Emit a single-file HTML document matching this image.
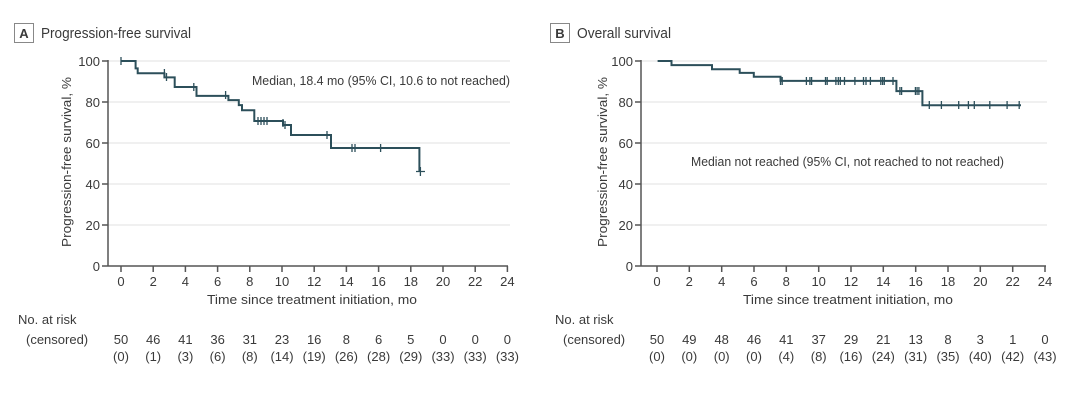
<!DOCTYPE html>
<html><head><meta charset="utf-8"><style>
html,body{margin:0;padding:0;background:#fff;width:1080px;height:400px;overflow:hidden}
svg{display:block}
text{font-family:"Liberation Sans Narrow","Liberation Sans",sans-serif;fill:#3a3a3a;font-size:13px}
</style></head><body>
<svg width="1080" height="400" viewBox="0 0 1080 400" xmlns="http://www.w3.org/2000/svg">
<g id="A">
 <rect x="14.5" y="23.5" width="19" height="19" fill="#fff" stroke="#888"/>
 <text x="24" y="38" text-anchor="middle" font-weight="bold" style="font-size:13px">A</text>
 <text x="41" y="38" style="font-size:15px" textLength="150" lengthAdjust="spacingAndGlyphs">Progression-free survival</text>
 <g stroke="#e6e6e6" stroke-width="1.2">
  <line x1="108" y1="61" x2="510" y2="61"/><line x1="108" y1="102" x2="510" y2="102"/>
  <line x1="108" y1="143" x2="510" y2="143"/><line x1="108" y1="184" x2="510" y2="184"/>
  <line x1="108" y1="225" x2="510" y2="225"/>
 </g>
 <g stroke="#555" stroke-width="1.5" fill="none">
  <line x1="108" y1="60" x2="108" y2="266"/><line x1="108" y1="266" x2="508" y2="266"/>
  <path d="M102 61H108M102 102H108M102 143H108M102 184H108M102 225H108M102 266H108"/>
  <path d="M121 266v6M153.2 266v6M185.4 266v6M217.6 266v6M249.8 266v6M282 266v6M314.2 266v6M346.4 266v6M378.6 266v6M410.8 266v6M443 266v6M475.2 266v6M507.4 266v6"/>
 </g>
 <g text-anchor="end">
  <text x="100" y="66">100</text><text x="100" y="107">80</text><text x="100" y="148">60</text>
  <text x="100" y="189">40</text><text x="100" y="230">20</text><text x="100" y="271">0</text>
 </g>
 <g text-anchor="middle">
  <text x="121" y="286">0</text><text x="153.2" y="286">2</text><text x="185.4" y="286">4</text><text x="217.6" y="286">6</text><text x="249.8" y="286">8</text><text x="282" y="286">10</text><text x="314.2" y="286">12</text><text x="346.4" y="286">14</text><text x="378.6" y="286">16</text><text x="410.8" y="286">18</text><text x="443" y="286">20</text><text x="475.2" y="286">22</text><text x="507.4" y="286">24</text>
  <text x="312" y="304" textLength="210" lengthAdjust="spacingAndGlyphs">Time since treatment initiation, mo</text>
  <text transform="translate(71,162) rotate(-90)" textLength="170" lengthAdjust="spacingAndGlyphs">Progression-free survival, %</text>
 </g>
 <text x="252" y="85" textLength="258" lengthAdjust="spacingAndGlyphs">Median, 18.4 mo (95% CI, 10.6 to not reached)</text>
 <path fill="none" stroke="#2c4f5a" stroke-width="2" d="M121 61H135.6V68.4H137.7V73.3H164.4V77.4H174.7V87H196.5V95.9H228.4V100.1H238.8V105.1H242V110.2H254.3V121H283V125H291V135H331V148H419.4V171.5"/>
 <path fill="none" stroke="#2c4f5a" stroke-width="1.3" d="M121 57v8M164.4 69v8M166.5 73v8M193.8 83v8M196.5 87v8M225.6 91v8M258 117v8M261 117v8M264 117v8M267 117v8M283 119v8M285 121v8M327 131v8M352 144v8M355 144v8M380.6 144v8M420.4 167v9M416 171.5h9"/>
 <text x="18" y="324">No. at risk</text>
 <text x="26" y="344">(censored)</text>
 <g text-anchor="middle">
  <text x="121" y="344">50</text><text x="153.2" y="344">46</text><text x="185.4" y="344">41</text><text x="217.6" y="344">36</text><text x="249.8" y="344">31</text><text x="282" y="344">23</text><text x="314.2" y="344">16</text><text x="346.4" y="344">8</text><text x="378.6" y="344">6</text><text x="410.8" y="344">5</text><text x="443" y="344">0</text><text x="475.2" y="344">0</text><text x="507.4" y="344">0</text>
  <text x="121" y="361">(0)</text><text x="153.2" y="361">(1)</text><text x="185.4" y="361">(3)</text><text x="217.6" y="361">(6)</text><text x="249.8" y="361">(8)</text><text x="282" y="361">(14)</text><text x="314.2" y="361">(19)</text><text x="346.4" y="361">(26)</text><text x="378.6" y="361">(28)</text><text x="410.8" y="361">(29)</text><text x="443" y="361">(33)</text><text x="475.2" y="361">(33)</text><text x="507.4" y="361">(33)</text>
 </g>
</g>
<g id="B">
 <rect x="550.5" y="23.5" width="19" height="19" fill="#fff" stroke="#888"/>
 <text x="560" y="38" text-anchor="middle" font-weight="bold">B</text>
 <text x="577" y="38" style="font-size:15px" textLength="94" lengthAdjust="spacingAndGlyphs">Overall survival</text>
 <g stroke="#e6e6e6" stroke-width="1.2">
  <line x1="641" y1="61" x2="1047" y2="61"/><line x1="641" y1="102" x2="1047" y2="102"/>
  <line x1="641" y1="143" x2="1047" y2="143"/><line x1="641" y1="184" x2="1047" y2="184"/>
  <line x1="641" y1="225" x2="1047" y2="225"/>
 </g>
 <g stroke="#555" stroke-width="1.5" fill="none">
  <line x1="641" y1="60" x2="641" y2="266"/><line x1="641" y1="266" x2="1046" y2="266"/>
  <path d="M635 61H641M635 102H641M635 143H641M635 184H641M635 225H641M635 266H641"/>
  <path d="M657 266v6M689.3 266v6M721.7 266v6M754 266v6M786.3 266v6M818.7 266v6M851 266v6M883.3 266v6M915.7 266v6M948 266v6M980.3 266v6M1012.7 266v6M1045 266v6"/>
 </g>
 <g text-anchor="end">
  <text x="633" y="66">100</text><text x="633" y="107">80</text><text x="633" y="148">60</text>
  <text x="633" y="189">40</text><text x="633" y="230">20</text><text x="633" y="271">0</text>
 </g>
 <g text-anchor="middle">
  <text x="657" y="286">0</text><text x="689.3" y="286">2</text><text x="721.7" y="286">4</text><text x="754" y="286">6</text><text x="786.3" y="286">8</text><text x="818.7" y="286">10</text><text x="851" y="286">12</text><text x="883.3" y="286">14</text><text x="915.7" y="286">16</text><text x="948" y="286">18</text><text x="980.3" y="286">20</text><text x="1012.7" y="286">22</text><text x="1045" y="286">24</text>
  <text x="848" y="304" textLength="210" lengthAdjust="spacingAndGlyphs">Time since treatment initiation, mo</text>
  <text transform="translate(607,162) rotate(-90)" textLength="170" lengthAdjust="spacingAndGlyphs">Progression-free survival, %</text>
 </g>
 <text x="691" y="166" textLength="313" lengthAdjust="spacingAndGlyphs">Median not reached (95% CI, not reached to not reached)</text>
 <path fill="none" stroke="#2c4f5a" stroke-width="2" d="M657.6 61H671.5V65.1H712V69.2H739.7V72.9H753.8V76.8H780.5V80.9H896.4V91.1H922.4V105.3H1021"/>
 <path fill="none" stroke="#2c4f5a" stroke-width="1.3" d="M780.5 77v8M782.2 77v8M806.4 77v8M809.9 77v8M811.6 77v8M825.5 77v8M827.2 77v8M835.9 77v8M838.3 77v8M840.3 77v8M844.5 77v8M854.9 77v8M863.5 77v8M866 77v8M870.4 77v8M880.8 77v8M882.6 77v8M884.3 77v8M893 77v8M899.9 87v8M901.6 87v8M915.4 87v8M917.1 87v8M918.9 87v8M929.3 101v8M941.4 101v8M958.7 101v8M968.4 101v8M974.3 101v8M989.8 101v8M1007.1 101v8M1019.2 101v8"/>
 <text x="555" y="324">No. at risk</text>
 <text x="563" y="344">(censored)</text>
 <g text-anchor="middle">
  <text x="657" y="344">50</text><text x="689.3" y="344">49</text><text x="721.7" y="344">48</text><text x="754" y="344">46</text><text x="786.3" y="344">41</text><text x="818.7" y="344">37</text><text x="851" y="344">29</text><text x="883.3" y="344">21</text><text x="915.7" y="344">13</text><text x="948" y="344">8</text><text x="980.3" y="344">3</text><text x="1012.7" y="344">1</text><text x="1045" y="344">0</text>
  <text x="657" y="361">(0)</text><text x="689.3" y="361">(0)</text><text x="721.7" y="361">(0)</text><text x="754" y="361">(0)</text><text x="786.3" y="361">(4)</text><text x="818.7" y="361">(8)</text><text x="851" y="361">(16)</text><text x="883.3" y="361">(24)</text><text x="915.7" y="361">(31)</text><text x="948" y="361">(35)</text><text x="980.3" y="361">(40)</text><text x="1012.7" y="361">(42)</text><text x="1045" y="361">(43)</text>
 </g>
</g>
</svg>
</body></html>
